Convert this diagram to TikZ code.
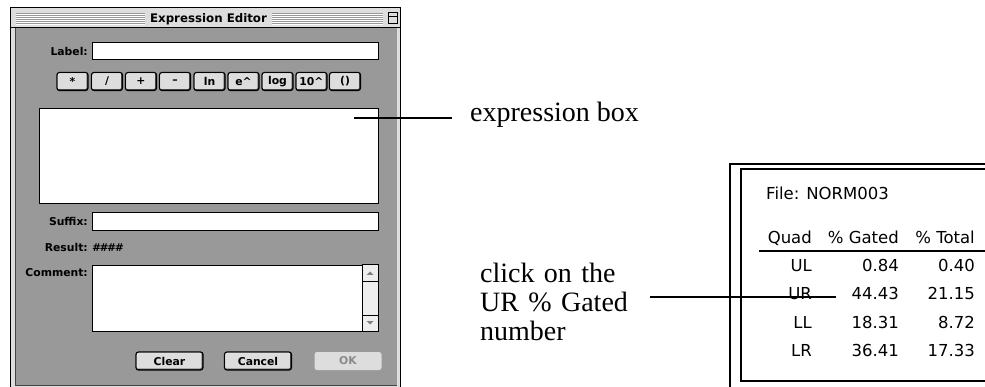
\documentclass[tikz,border=0pt]{standalone}
\usepackage{fontspec}
\setmainfont{Liberation Serif}
\newfontfamily\uifont{DejaVu Sans}
\newfontfamily\tabfont{DejaVu Sans}
\definecolor{winface}{HTML}{999999}
\definecolor{framegray}{HTML}{DDDDDD}
\definecolor{btnface}{HTML}{DDDDDD}
\definecolor{darkedge}{HTML}{444444}
\definecolor{stripegray}{HTML}{999999}
\definecolor{dimtext}{HTML}{8A8A8A}
\definecolor{scrollface}{HTML}{EEEEEE}
\begin{document}
\begin{tikzpicture}[x=1pt,y=-1pt,
  uitext/.style={font=\uifont\bfseries\fontsize{10.8}{12}\selectfont, inner sep=0pt},
  uilabel/.style={uitext, anchor=base east},
  field/.style={draw=black, fill=white, line width=1pt, inner sep=0pt, anchor=north west},
  btn/.style={draw=black, fill=btnface, line width=1.2pt, rounded corners=2.5pt,
              inner sep=0pt, minimum height=18pt, uitext,
              path picture={
                \draw[white, line width=2.4pt]
                  (path picture bounding box.south west) -- (path picture bounding box.north west)
                  -- (path picture bounding box.north east);
                \draw[gray!60!black, line width=2.8pt]
                  (path picture bounding box.south west) -- (path picture bounding box.south east)
                  -- (path picture bounding box.north east);
              }},
  opbtn/.style={btn, minimum width=31pt},
  cmdbtn/.style={btn, minimum width=67pt},
  stripe/.style={draw=stripegray, line width=0.8pt},
  callout/.style={font=\fontsize{28}{29}\selectfont, inner sep=0pt},
  leader/.style={draw=black, line width=1.2pt},
  tabtext/.style={font=\tabfont\fontsize{16.5}{18}\selectfont, inner sep=0pt},
  tabnum/.style={tabtext, anchor=base east},
  tabrule/.style={draw=black, line width=1.2pt}
]
\useasboundingbox (0,0) rectangle (985,387);

% ---------- window frame and title bar ----------
\fill[framegray] (10,8) rectangle (400,395);
\foreach \y in {13,15,...,23} {
  \draw[stripe] (16,\y) -- (145,\y);
  \draw[stripe] (272,\y) -- (383,\y);
  \draw[white, line width=0.8pt] (16,\y+1) -- (145,\y+1);
  \draw[white, line width=0.8pt] (272,\y+1) -- (383,\y+1);
}
\draw[fill=framegray, line width=0.8pt] (388,12) rectangle (397,23);
\draw[line width=0.6pt] (388,16) -- (397,16);
\node[uitext, font=\uifont\bfseries\fontsize{11.8}{13}\selectfont, anchor=base] (title) at (208.5,23) {Expression Editor};

% ---------- dialog body ----------
\fill[winface] (15,28) rectangle (397,386);
\draw[darkedge, line width=1.2pt] (15.6,28) -- (15.6,385.4) -- (397,385.4);
\draw[line width=1pt] (10,28) -- (400,28);
\draw[line width=1pt] (10,8) rectangle (400,395);

% Label row
\node[uilabel] (lbllabel) at (88,56) {Label:};
\node[field, minimum width=286pt, minimum height=17pt] (labelfield) at (92,42) {};

% operator buttons
\node[opbtn] (bstar) at (72.5,81.5) {*};
\node[opbtn] (bslash) at (107,81.5) {/};
\node[opbtn] (bplus) at (141,81.5) {+};
\node[opbtn] (bminus) at (175,81.5) {–};
\node[opbtn] (bln) at (209.5,81.5) {ln};
\node[opbtn] (bexp) at (243.5,81.5) {e\^{}};
\node[opbtn] (blog) at (277.5,81.5) {log};
\node[opbtn] (bpow) at (311.5,81.5) {10\^{}};
\node[opbtn] (bparen) at (345,81.5) {()};

% expression box
\node[field, minimum width=339pt, minimum height=95pt] (exprbox) at (39,108) {};

% Suffix row
\node[uilabel] (sufflabel) at (88,226) {Suffix:};
\node[field, minimum width=286pt, minimum height=18pt] (suffield) at (92,212) {};

% Result row
\node[uilabel] (reslabel) at (88,252) {Result:};
\node[uitext, anchor=base west, font=\uifont\bfseries\itshape\fontsize{10.8}{12}\selectfont] (resval) at (92,252) {\#\#\#\#};

% Comment row with scroll bar
\node[uilabel] (comlabel) at (88,277) {Comment:};
\node[field, minimum width=286pt, minimum height=66pt] (comfield) at (92,265) {};
\draw[fill=scrollface, line width=1pt] (362,265) rectangle (378,331);
\draw[line width=0.8pt] (362,281) -- (378,281);
\draw[line width=0.8pt] (362,315) -- (378,315);
\fill[gray] (366.5,275) -- (373.5,275) -- (370,271.5) -- cycle;
\fill[gray] (366.5,321) -- (373.5,321) -- (370,324.5) -- cycle;

% command buttons
\node[cmdbtn] (bclear) at (169.5,361) {Clear};
\node[cmdbtn] (bcancel) at (258,361) {Cancel};
\node[draw=none, fill=framegray, rounded corners=2.5pt, minimum width=67pt, minimum height=18pt,
      uitext, text=dimtext] (bok) at (348,361) {OK};

% ---------- results table ----------
\draw[tabrule] (990,164) -- (730,164) -- (730,395);
\draw[tabrule] (990,169) -- (741,169) -- (741,381) -- (990,381);
\node[tabtext, anchor=base west] (filename) at (766,200) {File: NORM003};
\node[tabnum] (hquad) at (812,244) {Quad};
\node[tabnum] (hgated) at (899,244) {\% Gated};
\node[tabnum] (htotal) at (975,244) {\% Total};
\draw[tabrule] (759,251) -- (990,251);

\node[tabnum] (qul) at (812,272) {UL};
\node[tabnum] (gul) at (899,272) {0.84};
\node[tabnum] (tul) at (975,272) {0.40};
\node[tabnum] (qur) at (812,300) {UR};
\node[tabnum] (gur) at (899,300) {44.43};
\node[tabnum] (tur) at (975,300) {21.15};
\node[tabnum] (qll) at (812,328) {LL};
\node[tabnum] (gll) at (899,328) {18.31};
\node[tabnum] (tll) at (975,328) {8.72};
\node[tabnum] (qlr) at (812,356) {LR};
\node[tabnum] (glr) at (899,356) {36.41};
\node[tabnum] (tlr) at (975,356) {17.33};

% ---------- callouts ----------
\node[callout, inner xsep=18pt, inner ysep=0pt, anchor=base west] (exprlbl) at (452,122) {expression box};
\coordinate (exprpt) at (354,118);
\draw[leader] (exprpt) -- (exprpt -| exprlbl.west);

\node[callout, text width=170pt, align=left, anchor=north west] (clicklbl) at (480,263)
  {click on the\\UR \% Gated\\number};
\coordinate (urpt) at (836,297);
\draw[leader] (clicklbl.east |- urpt) -- (urpt);
\end{tikzpicture}
\end{document}
